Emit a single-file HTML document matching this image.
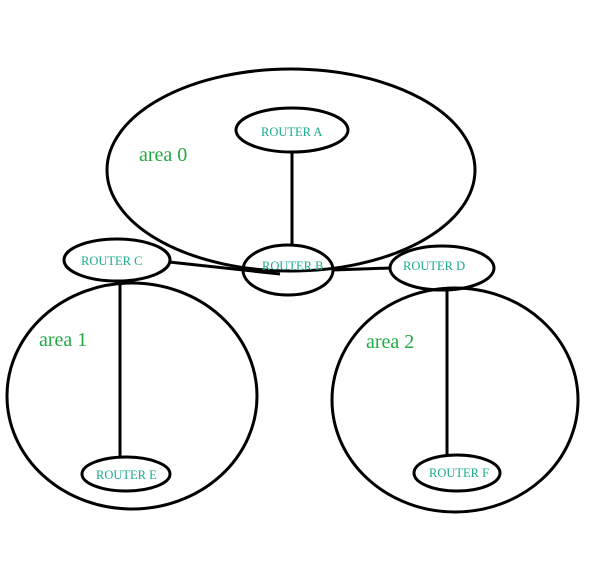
<!DOCTYPE html>
<html><head><style>body{margin:0;background:#fff}</style></head><body>
<svg width="608" height="571" xmlns="http://www.w3.org/2000/svg" style="display:block">
<rect width="608" height="571" fill="#fff"/>
<g fill="none" stroke="#000" stroke-width="3">
<ellipse cx="291" cy="170" rx="184" ry="101"/>
<ellipse cx="132" cy="396" rx="125" ry="113"/>
<ellipse cx="455" cy="400" rx="123" ry="112"/>
<ellipse cx="292" cy="130" rx="56" ry="22"/>
<ellipse cx="288" cy="270" rx="45" ry="25"/>
<ellipse cx="117" cy="260" rx="53" ry="21"/>
<ellipse cx="442" cy="268" rx="52" ry="22"/>
<ellipse cx="126" cy="474" rx="44" ry="17"/>
<ellipse cx="457" cy="473" rx="43" ry="18"/>
<line x1="292" y1="153" x2="292" y2="244"/>
<line x1="120" y1="282" x2="120" y2="457"/>
<line x1="447" y1="291" x2="447" y2="455"/>
<line x1="169" y1="262" x2="280" y2="274"/>
<line x1="333" y1="270" x2="391" y2="268"/>
</g>
<g font-family="Liberation Serif, serif" font-size="12.5" fill="#19ab8c">
<text x="261" y="136">ROUTER A</text>
<text x="262" y="270">ROUTER B</text>
<text x="81" y="265">ROUTER C</text>
<text x="403" y="270">ROUTER D</text>
<text x="96" y="479">ROUTER E</text>
<text x="429" y="477">ROUTER F</text>
</g>
<g font-family="Liberation Serif, serif" font-size="20" fill="#22aa44">
<text x="139" y="161">area 0</text>
<text x="39" y="346">area 1</text>
<text x="366" y="348">area 2</text>
</g>
</svg>
</body></html>
